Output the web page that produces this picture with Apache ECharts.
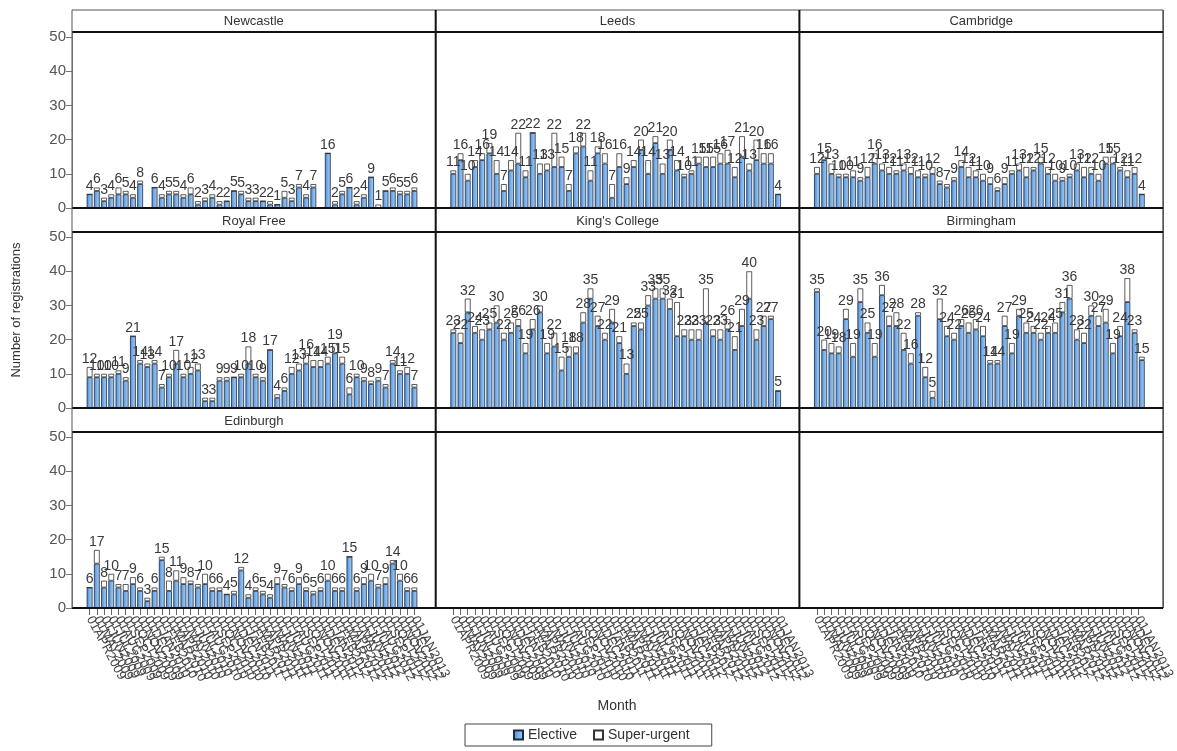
<!DOCTYPE html>
<html><head><meta charset="utf-8">
<script src="https://cdn.jsdelivr.net/npm/echarts@6/dist/echarts.min.js"></script>
<style>html,body{margin:0;padding:0;background:#fff}#c{width:1177px;height:751px}</style>
</head><body><div id="c"></div>
<script>
const months = ['01APR2009','01MAY2009','01JUN2009','01JUL2009','01AUG2009','01SEP2009','01OCT2009','01NOV2009','01DEC2009',
 '01JAN2010','01FEB2010','01MAR2010','01APR2010','01MAY2010','01JUN2010','01JUL2010','01AUG2010','01SEP2010','01OCT2010','01NOV2010','01DEC2010',
 '01JAN2011','01FEB2011','01MAR2011','01APR2011','01MAY2011','01JUN2011','01JUL2011','01AUG2011','01SEP2011','01OCT2011','01NOV2011','01DEC2011',
 '01JAN2012','01FEB2012','01MAR2012','01APR2012','01MAY2012','01JUN2012','01JUL2012','01AUG2012','01SEP2012','01OCT2012','01NOV2012','01DEC2012',
 '01JAN2013'];
const yTicks = [0, 10, 20, 30, 40, 50];
const panelNames = ['Newcastle', 'Leeds', 'Cambridge', 'Royal Free', "King's College", 'Birmingham', 'Edinburgh'];

const newcastleElective = [4,5,2,3,4,4,3,7,0,6,3,4,4,3,4,1,2,3,1,2,5,4,2,2,2,1,1,3,2,6,3,6,0,16,1,4,6,1,3,9,0,5,5,4,4,5];
const newcastleSuper    = [0,1,1,1,2,1,1,1,0,0,1,1,1,1,2,1,1,1,1,0,0,1,1,1,0,1,0,2,1,1,1,1,0,0,1,1,0,1,1,0,1,0,1,1,1,1];
const leedsElective = [10,14,8,12,14,16,10,5,11,13,9,22,10,11,12,12,5,16,18,8,16,13,3,12,7,12,17,10,19,10,17,11,9,10,13,12,12,13,13,9,15,11,14,13,13,4];
const leedsSuper    = [1,2,2,2,2,3,4,2,3,9,2,0,3,2,10,3,2,2,4,3,2,3,4,4,2,2,3,4,2,3,3,3,1,1,2,3,3,3,4,3,6,2,6,3,3,0];
const cambridgeElective = [10,14,10,9,9,9,8,9,13,11,10,10,11,10,9,9,10,7,6,8,12,9,9,8,7,5,7,10,11,9,11,13,10,8,8,9,11,9,10,8,13,13,11,9,10,4];
const cambridgeSuper    = [2,1,3,1,1,2,1,3,3,2,2,1,2,2,2,1,2,1,1,1,2,3,2,2,2,1,2,1,2,3,1,2,2,2,1,1,2,3,2,2,2,2,1,2,2,0];
const royalFreeElective = [9,9,9,9,10,8,21,13,12,13,6,9,13,9,10,11,2,2,8,8,9,9,13,9,8,17,3,5,10,11,13,12,12,13,16,13,4,9,8,7,8,6,13,10,10,6];
const royalFreeSuper    = [3,1,1,1,1,1,0,1,1,1,1,1,4,1,2,2,1,1,1,1,0,1,5,1,1,0,1,1,2,2,3,2,2,2,3,2,2,1,1,1,1,1,1,1,2,1];
const kingsElective = [22,19,28,22,20,23,25,20,22,24,16,23,28,16,18,11,15,16,25,32,24,20,25,19,10,24,23,30,32,32,29,21,21,20,20,25,21,20,23,17,24,32,20,24,26,5];
const kingsSuper    = [1,3,4,2,3,2,5,2,3,2,3,3,2,3,4,4,3,2,3,3,3,2,4,2,3,1,2,3,3,3,3,10,2,3,3,10,2,3,3,4,5,8,3,3,1,0];
const birminghamElective = [34,17,16,16,26,15,31,22,15,33,24,24,17,13,27,9,3,26,21,20,24,22,23,21,13,13,24,16,27,22,22,20,22,22,28,32,20,19,27,24,25,16,21,31,22,14];
const birminghamSuper    = [1,3,3,2,3,4,4,3,4,3,3,4,5,3,1,3,2,6,3,2,2,3,3,3,1,1,3,3,2,3,2,2,2,3,3,4,3,3,3,3,4,3,3,7,1,1];
const edinburghElective = [6,13,6,8,6,5,7,5,2,5,14,5,8,7,7,6,7,5,5,4,4,11,3,5,4,3,7,6,5,7,5,4,5,8,5,5,15,5,7,8,6,7,13,8,5,5];
const edinburghSuper    = [0,4,2,2,1,2,2,1,1,1,1,3,3,2,1,1,3,1,1,0,1,1,1,1,1,1,2,1,1,2,1,1,1,2,1,1,0,1,2,2,1,2,1,2,1,1];

const electiveSets = [newcastleElective, leedsElective, cambridgeElective, royalFreeElective, kingsElective, birminghamElective, edinburghElective];
const superSets = [newcastleSuper, leedsSuper, cambridgeSuper, royalFreeSuper, kingsSuper, birminghamSuper, edinburghSuper];

const FONT = '"Liberation Sans", Arial, sans-serif';
const X0 = 72, COLW = 363.7, PADL = 14, INNERW = 332;
const ROWTOP = [32, 232, 432], PH = 176;

const grids = [], xAxes = [], yAxes = [], series = [], graphics = [];
for (let i = 0; i < 9; i++) {
  const r = Math.floor(i / 3), c = i % 3;
  grids.push({left: X0 + c * COLW + PADL, top: ROWTOP[r], width: INNERW, height: PH, containLabel: false});
  const bottom = r === 2;
  xAxes.push({type: 'category', gridIndex: i, data: months,
    axisLine: {show: false},
    axisTick: {show: bottom, alignWithLabel: true, length: 7, lineStyle: {color: '#666'}},
    axisLabel: {show: bottom, interval: 0, rotate: -62, fontSize: 13, color: '#444', margin: 9, fontFamily: FONT}
  });
  yAxes.push({type: 'value', gridIndex: i, min: 0, max: 51.5, interval: 10, show: c === 0, offset: PADL,
    splitLine: {show: false},
    axisLine: {show: true, lineStyle: {color: '#888'}},
    axisTick: {show: true, length: 6, lineStyle: {color: '#777'}, customValues: yTicks},
    axisLabel: {fontSize: 15, color: '#555', margin: 6, fontFamily: FONT, customValues: yTicks,
      formatter: v => (v % 10 === 0 ? String(v) : '')}
  });
}

const blue = new echarts.graphic.LinearGradient(0, 0, 1, 0, [
  {offset: 0, color: '#4a8ad4'}, {offset: 0.5, color: '#7db3ec'}, {offset: 1, color: '#aacdf3'}]);

for (let k = 0; k < 7; k++) {
  const el = electiveSets[k], su = superSets[k];
  series.push({type: 'bar', name: 'Elective', xAxisIndex: k, yAxisIndex: k, stack: 's' + k, data: el,
    barWidth: 5.8, itemStyle: {color: blue, borderColor: '#1c2b40', borderWidth: 0.8}, animation: false});
  series.push({type: 'bar', name: 'Super-urgent', xAxisIndex: k, yAxisIndex: k, stack: 's' + k, data: su,
    barWidth: 5.8, itemStyle: {color: '#ffffff', borderColor: '#333', borderWidth: 0.8}, animation: false,
    label: {show: true, position: 'top', distance: 1, fontSize: 14, color: '#3a3a3a', fontFamily: FONT,
      formatter: p => { const t = el[p.dataIndex] + su[p.dataIndex]; return t ? String(t) : ''; }}});
}

// frame lines
const L = X0, R = X0 + 3 * COLW;
const thick = {stroke: '#111', lineWidth: 2};
const thin = {stroke: '#555', lineWidth: 1};
[32, 208, 232, 408, 432, 608].forEach(y => graphics.push({type: 'line', shape: {x1: L, y1: y, x2: R, y2: y}, style: thick, z: 100}));
graphics.push({type: 'line', shape: {x1: L, y1: 10, x2: R, y2: 10}, style: thin, z: 100});
graphics.push({type: 'line', shape: {x1: L, y1: 10, x2: L, y2: 608}, style: thin, z: 100});
graphics.push({type: 'line', shape: {x1: R, y1: 10, x2: R, y2: 608}, style: {stroke: '#111', lineWidth: 1.2}, z: 100});
[1, 2].forEach(c => graphics.push({type: 'line', shape: {x1: X0 + c * COLW, y1: 10, x2: X0 + c * COLW, y2: 608}, style: thick, z: 100}));
panelNames.forEach((n, i) => {
  const r = Math.floor(i / 3), c = i % 3;
  graphics.push({type: 'text', x: X0 + c * COLW + COLW / 2, y: 21 + 200 * r,
    style: {text: n, fill: '#333', font: '13px ' + FONT, textAlign: 'center', textVerticalAlign: 'middle'}, z: 100});
});
graphics.push({type: 'text', x: 16, y: 310, rotation: Math.PI / 2,
  style: {text: 'Number of registrations', fill: '#333', font: '13px ' + FONT, textAlign: 'center', textVerticalAlign: 'middle'}});
graphics.push({type: 'text', x: 617, y: 706,
  style: {text: 'Month', fill: '#333', font: '14px ' + FONT, textAlign: 'center', textVerticalAlign: 'middle'}});

const chart = echarts.init(document.getElementById('c'), null, {renderer: 'canvas'});
chart.setOption({
  animation: false,
  backgroundColor: '#fff',
  grid: grids, xAxis: xAxes, yAxis: yAxes, series: series,
  legend: {data: ['Elective', 'Super-urgent'], left: 465, top: 724, padding: [4, 22, 4, 48],
    borderColor: '#444', borderWidth: 1, itemWidth: 9, itemHeight: 9, itemGap: 16, icon: 'rect',
    textStyle: {fontSize: 14, color: '#333', fontFamily: FONT}},
  graphic: graphics
});
</script></body></html>
